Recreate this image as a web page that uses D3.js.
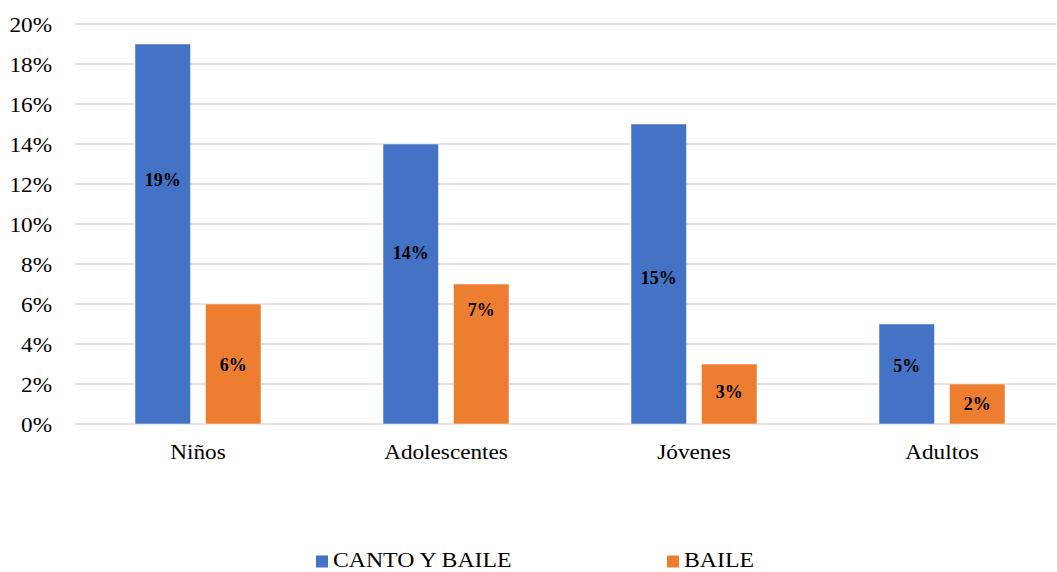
<!DOCTYPE html>
<html><head><meta charset="utf-8">
<script src="https://cdn.jsdelivr.net/npm/d3@7"></script>
<style>body{margin:0;background:#fff;} svg{display:block;}</style>
</head><body>
<svg id="c" width="1057" height="572"></svg>
<script>
const categories = ["Niños", "Adolescentes", "Jóvenes", "Adultos"];
const seriesNames = ["CANTO Y BAILE", "BAILE"];
const cantoYBaile = [19, 14, 15, 5];
const baile = [6, 7, 3, 2];
// vertical positions of the data labels, in value units (as placed in the original)
const cantoLabelAt = [12.2, 8.55, 7.3, 2.9];
const baileLabelAt = [2.95, 5.7, 1.6, 1.0];
const yTicks = [0, 2, 4, 6, 8, 10, 12, 14, 16, 18, 20];
const colors = ["#4472C4", "#ED7D31"];

(function () {
const svg = d3.select("#c");
const pLeft = 74, pRight = 1066, pTop = 24, pBottom = 424;
const x = d3.scaleBand().domain(categories).range([pLeft, pRight]).paddingInner(0).paddingOuter(0);
const y = d3.scaleLinear().domain([0, 20]).range([pBottom, pTop]);
const barW = 55.5, gap = 15;
const FONT = "Liberation Serif";
const stretch = "scale(1.08,1)";

// gridlines
svg.append("g").selectAll("line").data(yTicks).join("line")
  .attr("x1", pLeft + 1).attr("x2", 1057)
  .attr("y1", d => y(d)).attr("y2", d => y(d))
  .attr("stroke", "#d9d9d9").attr("stroke-width", 1.5);

// y axis labels
const yAxis = d3.axisLeft(y).tickValues(yTicks).tickFormat(d => d + "%").tickSize(0).tickPadding(0);
const ya = svg.append("g").attr("transform", "translate(52,0)").call(yAxis);
ya.select(".domain").remove();
ya.attr("font-family", FONT).attr("font-size", 21.5);
ya.selectAll("text").attr("fill", "#000").attr("dy", "0.33em").attr("transform", stretch);

// x axis labels
const xAxis = d3.axisBottom(x).tickSize(0).tickPadding(0);
const xa = svg.append("g").attr("transform", `translate(0,${pBottom})`).call(xAxis);
xa.select(".domain").remove();
xa.attr("font-family", FONT).attr("font-size", 21.5);
xa.selectAll("text").attr("fill", "#000").attr("y", 35).attr("dy", 0).attr("transform", stretch);

const series = [cantoYBaile, baile];
const labelAt = [cantoLabelAt, baileLabelAt];
series.forEach((vals, si) => {
  const cx = c => x(c) + x.bandwidth() / 2 + (si === 0 ? -(gap / 2 + barW) : gap / 2);
  const g = svg.append("g");
  g.selectAll("rect").data(categories).join("rect")
    .attr("x", c => cx(c))
    .attr("y", (c, i) => y(vals[i]))
    .attr("width", barW)
    .attr("height", (c, i) => y(0) - y(vals[i]))
    .attr("fill", colors[si])
    .attr("stroke", "#ffffff").attr("stroke-opacity", 0.6).attr("stroke-width", 0.8);
  g.selectAll("text").data(categories).join("text")
    .attr("x", c => cx(c) + barW / 2)
    .attr("y", (c, i) => y(labelAt[si][i]))
    .attr("text-anchor", "middle").attr("dominant-baseline", "central")
    .attr("font-family", FONT).attr("font-weight", "bold").attr("font-size", 18)
    .attr("fill", "#000")
    .text((c, i) => vals[i] + "%");
});

// legend
const legendX = [316, 667];
const lg = svg.append("g");
seriesNames.forEach((n, i) => {
  lg.append("rect").attr("x", legendX[i]).attr("y", 555.5).attr("width", 12).attr("height", 12).attr("fill", colors[i]);
  lg.append("text").attr("transform", `translate(${legendX[i] + 17},567) ${stretch}`)
    .attr("font-family", FONT).attr("font-size", 22).attr("fill", "#000").text(n);
});
})();
</script>
</body></html>
